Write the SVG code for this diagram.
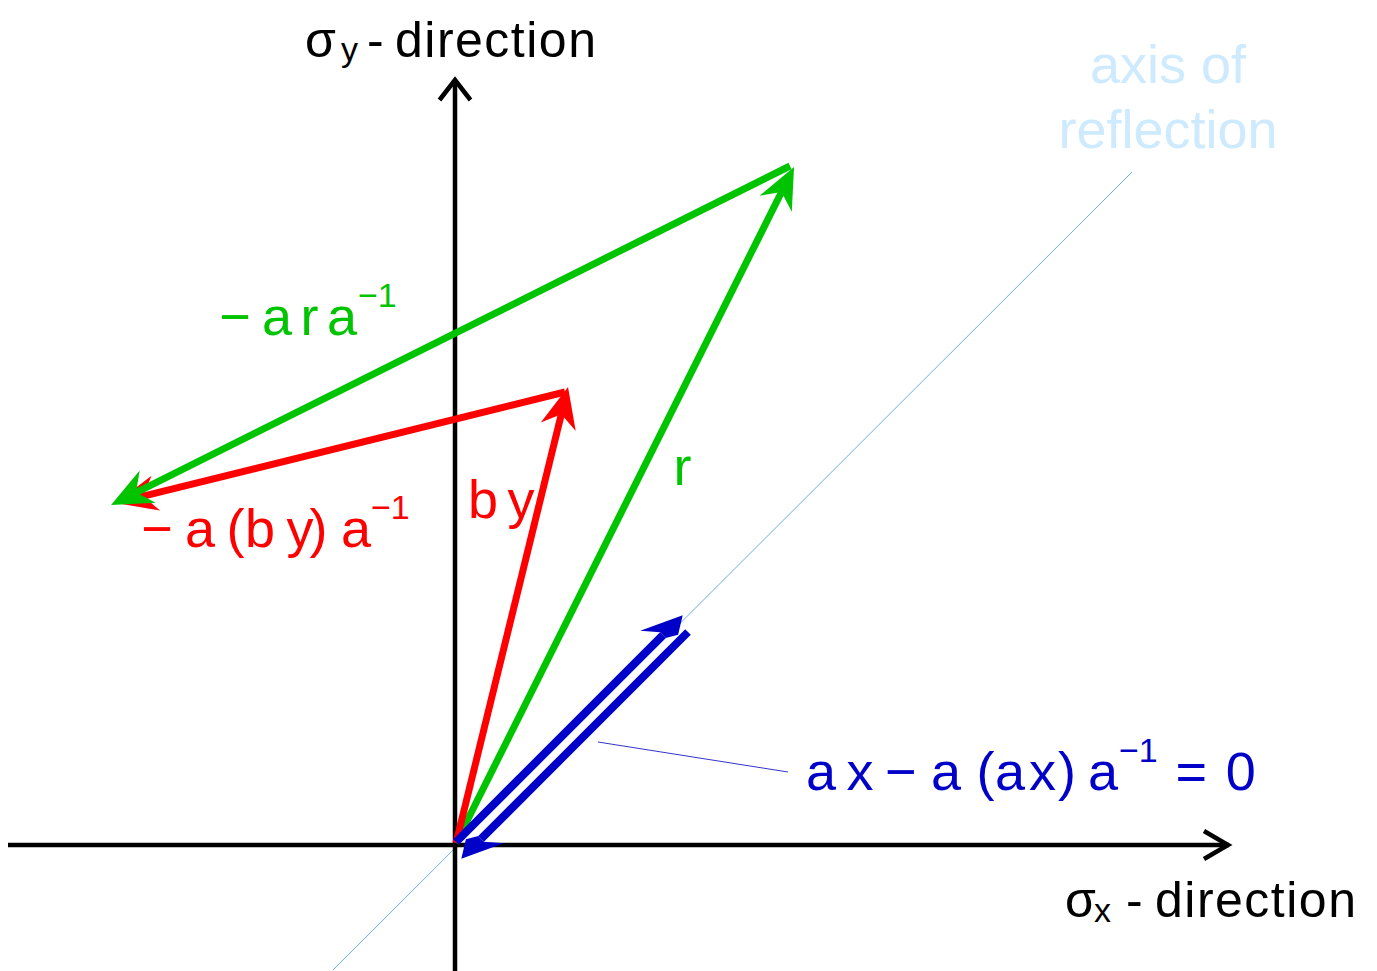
<svg xmlns="http://www.w3.org/2000/svg" width="1377" height="971" viewBox="0 0 1377 971">
<style>
.ax{stroke:#000;stroke-width:4.5;fill:none;stroke-linejoin:miter;stroke-miterlimit:10}
.g{stroke:#00c400;stroke-width:7;fill:none}
.r{stroke:#ff0000;stroke-width:7;fill:none}
.b{stroke:#0000c8;stroke-width:8;fill:none}
.t{font-family:"Liberation Sans",Arial,sans-serif;font-size:54px}
.dir{font-family:"Liberation Sans",Arial,sans-serif;font-size:50px;fill:#000}
.sub{font-size:34px}
.sup{font-size:34px}
.gt{fill:#00c400}
.rt{fill:#ff0000}
.bt{fill:#0000c8}
</style>
<defs>
<marker id="hg" viewBox="-20 -20 50 40" markerWidth="50" markerHeight="40" refX="0" refY="0" orient="auto" markerUnits="userSpaceOnUse"><path d="M24,0 L-17,-18 L-4,0 L-17,18 Z" fill="#00c400"/></marker>
<marker id="hr" viewBox="-20 -20 50 40" markerWidth="50" markerHeight="40" refX="0" refY="0" orient="auto" markerUnits="userSpaceOnUse"><path d="M24,0 L-17,-18 L-4,0 L-17,18 Z" fill="#ff0000"/></marker>
<marker id="hb" viewBox="-20 -20 50 40" markerWidth="50" markerHeight="40" refX="0" refY="0" orient="auto" markerUnits="userSpaceOnUse"><path d="M28,0 L-13,-19 L0,-4 L0,4 L11,10.5 Z" fill="#0000c8"/></marker>
</defs>
<rect width="1377" height="971" fill="#fff"/>
<g id="reflection-axis">
<line x1="333" y1="970" x2="1132" y2="172" stroke="#6aaee6" stroke-width="1"/>
</g>
<g id="axes">
<line class="ax" x1="8" y1="845" x2="1229" y2="845"/>
<polyline class="ax" points="1204,831 1228,845 1204,859"/>
<line class="ax" x1="455" y1="971" x2="455" y2="81"/>
<polyline class="ax" points="439.5,100 455,80 470.5,100"/>
</g>
<g id="connectors">
<line class="g" x1="456" y1="843" x2="783.3" y2="188.5" marker-end="url(#hg)"/>
<line class="r" x1="456" y1="843" x2="562.3" y2="410.3" marker-end="url(#hr)"/>
<line class="r" x1="565" y1="392" x2="139.3" y2="497.2" marker-end="url(#hr)"/>
<line class="g" x1="790" y1="166" x2="132.5" y2="494.3" marker-end="url(#hg)"/>
<line class="b" x1="456" y1="842" x2="662.9" y2="635.1" marker-end="url(#hb)"/>
<line class="b" x1="688" y1="632" x2="481.1" y2="838.9" marker-end="url(#hb)"/>
<line x1="598" y1="742" x2="788" y2="772" stroke="#3333cc" stroke-width="1"/>
</g>
<g id="label-sigma-y">
<text class="dir"><tspan x="305" y="57">σ</tspan><tspan class="sub" x="341" y="61">y</tspan><tspan x="367" y="57">-</tspan><tspan x="395" y="57" letter-spacing="1.5">direction</tspan></text>
</g>
<g id="label-sigma-x">
<text class="dir"><tspan x="1065" y="917">σ</tspan><tspan class="sub" x="1094" y="922">x</tspan><tspan x="1126" y="917">-</tspan><tspan x="1155" y="917" letter-spacing="1.5">direction</tspan></text>
</g>
<g id="label-axis-of-reflection">
<text class="t" fill="#cdeaff" text-anchor="middle"><tspan x="1168" y="83">axis of</tspan><tspan x="1168" y="148">reflection</tspan></text>
</g>
<g id="label-ara">
<text class="t gt"><tspan x="219.2 262 300.4 327" y="335">−ara</tspan><tspan class="sup" x="358" y="307">−1</tspan></text>
</g>
<g id="label-abya">
<text class="t rt"><tspan x="141.2 185 226.5 245.1 286.5 309.6 341" y="547">−a(by)a</tspan><tspan class="sup" x="371" y="519">−1</tspan></text>
</g>
<g id="label-by">
<text class="t rt" x="468.1 507.5" y="518">by</text>
</g>
<g id="label-r">
<text class="t gt" x="673.4" y="485">r</text>
</g>
<g id="label-ax">
<text class="t bt"><tspan x="806 846.5 885 931 976.5 995 1029 1058 1088" y="790">ax−a(ax)a</tspan><tspan class="sup" x="1119" y="762">−1</tspan><tspan x="1175.4 1225.7" y="790">=0</tspan></text>
</g>
</svg>
